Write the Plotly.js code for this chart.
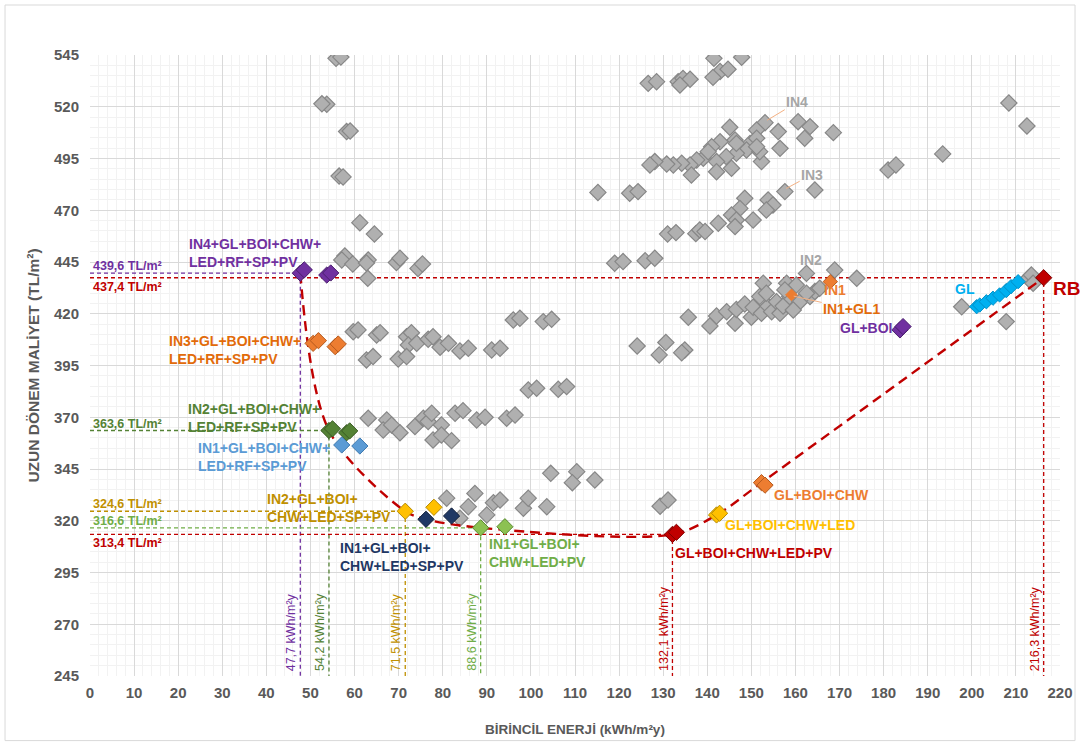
<!DOCTYPE html>
<html>
<head>
<meta charset="utf-8">
<script src="https://cdn.plot.ly/plotly-3.0.1.min.js"></script>
<style>
  html, body { margin: 0; padding: 0; background: #ffffff; }
  #chart { width: 1080px; height: 744px; }
</style>
</head>
<body>
<div id="chart"></div>
<script>
// ---- All evaluated combinations (primary energy kWh/m²y, long-term cost TL/m²) ----
const grayEnergy = [
  55.8, 56.9, 53.7, 52.6, 58.2, 59.0, 56.5, 57.4, 61.2, 64.5, 57.8, 57.1, 59.6, 63.1, 62.7, 69.5, 70.3, 74.4, 75.4, 63.0,
  59.7, 60.8, 65.0, 65.8, 62.7, 64.2, 71.8, 72.9, 72.2, 74.1, 69.9, 71.8, 76.7, 77.8, 79.4, 81.3, 83.9, 85.8, 91.1, 93.0, 96.0, 97.5, 102.8, 104.7,
  99.4, 101.3, 106.2, 108.1, 63.1, 67.3, 66.5, 68.4, 70.3, 73.7, 75.6, 76.7, 77.5, 79.7, 77.8, 79.7, 82.0, 82.8, 84.6, 87.7, 89.6, 94.5, 96.4,
  104.5, 110.4, 109.4, 114.5,
  80.9, 87.3, 85.8, 91.5, 93.0, 90.0, 83.9, 98.3, 99.4, 103.6, 129.3, 131.1,
  115.2, 122.4, 124.3, 119.0, 120.9, 125.9, 128.1,
  131.0, 132.9, 137.4, 138.3, 139.5,
  135.7, 124.1, 130.6, 129.1, 134.9, 134.2,
  140.6, 142.1, 144.4, 146.3, 146.6, 148.5, 150.0, 150.4, 151.9, 152.7, 152.3, 153.8, 154.6, 153.4, 155.7, 156.5, 157.2, 158.0, 158.7, 160.2,
  161.0, 159.5, 162.5, 163.3, 164.4, 165.5, 168.9, 173.9, 157.6, 162.5,
  126.6, 128.5, 133.4, 134.5, 136.1, 133.8, 141.5, 147.8, 142.9, 144.7, 141.3,
  145.1, 153.1, 156.1, 160.6, 163.3, 162.1, 168.6, 156.5, 151.2, 146.3, 142.9, 141.0, 149.7, 151.2, 148.9, 146.6, 144.3, 142.1, 139.1, 137.6,
  136.1, 134.2, 132.3, 130.8, 128.1, 127.0, 136.4, 142.1, 145.5, 152.3, 151.9, 151.2, 140.2, 146.6,
  157.6, 164.4, 148.5, 153.8, 154.9, 153.4, 147.4, 145.5, 146.6, 150.4, 142.5, 146.3,
  181.0, 182.8, 193.4, 208.4, 212.5, 197.7, 207.8, 212.8, 213.5, 213.9
];
const grayCost = [
  543.4, 544.0, 521.2, 521.4, 508.0, 508.3, 486.5, 486.1, 464.0, 458.5, 447.9, 446.0, 444.0, 446.0, 444.5, 444.7, 446.8, 441.9, 444.0, 437.1,
  411.3, 412.2, 409.7, 410.8, 397.7, 399.3, 408.9, 410.8, 404.9, 405.7, 398.1, 399.3, 407.7, 408.9, 403.8, 405.7, 402.0, 403.3, 402.5, 403.3, 417.0, 417.8, 416.2, 417.3,
  383.2, 384.0, 383.5, 384.8, 369.5, 368.7, 363.8, 366.3, 362.5, 365.5, 369.5, 367.9, 371.9, 366.3, 359.0, 361.4, 358.7, 371.9, 373.2, 368.7, 370.0, 369.5, 371.1,
  342.9, 343.7, 338.4, 339.7,
  330.9, 333.2, 326.8, 328.7, 330.0, 322.8, 321.2, 326.0, 330.9, 326.8, 327.0, 330.0,
  478.6, 478.2, 479.0, 444.4, 445.2, 445.6, 446.8,
  458.5, 459.2, 458.7, 460.5, 459.7,
  418.3, 404.4, 406.1, 400.1, 402.5, 401.2,
  414.1, 418.9, 421.0, 415.4, 422.1, 424.7, 418.3, 423.1, 428.3, 434.7, 420.2, 423.7, 421.0, 429.9, 425.8, 420.2, 423.7, 434.7, 428.3, 433.9,
  425.8, 421.8, 439.5, 428.3, 430.7, 432.3, 441.1, 437.1, 431.5, 429.9,
  531.3, 532.1, 532.1, 533.7, 533.3, 530.5, 543.4, 543.9, 537.0, 538.1, 534.2,
  510.1, 512.3, 508.0, 512.8, 510.4, 504.8, 507.5, 499.9, 508.8, 503.9, 503.1, 500.7, 502.3, 504.8, 499.1, 497.5, 495.9, 493.5, 495.1, 494.3,
  491.9, 492.7, 491.9, 492.3, 493.5, 491.9, 487.0, 488.6, 490.3, 493.5, 498.3, 500.7, 498.3, 502.3,
  479.0, 479.8, 475.8, 475.0, 472.5, 470.1, 470.9, 467.7, 465.3, 465.3, 463.7, 462.1,
  489.4, 491.9, 497.2, 521.8, 510.7, 423.4, 416.2, 437.1, 438.7, 434.7
];

// ---- Highlighted packages ----
const in4PkgEnergy = [47.7, 48.6, 53.7, 54.6];
const in4PkgCost   = [439.6, 441.2, 438.7, 439.7];
const in3PkgEnergy = [50.6, 51.8, 55.6, 56.3];
const in3PkgCost   = [405.7, 407.0, 404.1, 405.4];
const in2PkgEnergy = [54.2, 55.0, 58.2, 58.9];
const in2PkgCost   = [363.6, 364.4, 362.5, 363.4];
const in1PkgEnergy = [57.1, 61.2];
const in1PkgCost   = [356.6, 356.1];
const in2SpEnergy  = [71.5, 78.0];
const in2SpCost    = [324.6, 326.5];
const in1SpEnergy  = [76.2, 82.0];
const in1SpCost    = [320.7, 322.3];
const in1PvEnergy  = [88.6, 94.1];
const in1PvCost    = [316.6, 317.1];
const pvEnergy     = [132.1, 133.0];
const pvCost       = [313.4, 314.4];
const ledEnergy    = [142.1, 142.8];
const ledCost      = [322.8, 323.6];
const chwEnergy    = [152.3, 153.1];
const chwCost      = [338.4, 337.2];
const boiEnergy    = [183.7, 184.4];
const boiCost      = [412.2, 413.8];
const glEnergy     = [201.1, 201.8, 203.3, 204.8, 206.3, 207.8, 208.9, 210.5];
const glCost       = [423.4, 424.2, 425.8, 427.5, 429.1, 431.2, 433.1, 435.5];
const in1Energy    = [167.9];
const in1Cost      = [435.5];
const in1Gl1Energy = [159.1];
const in1Gl1Cost   = [429.1];
const rbEnergy     = [216.3];
const rbCost       = [437.4];

// ---- Cost-optimal front ----
const frontEnergy = [47.7, 54.2, 71.5, 76.2, 88.6, 132.1, 142.1, 152.3, 216.3];
const frontCost   = [439.6, 363.6, 324.6, 320.7, 316.6, 313.4, 322.8, 338.4, 437.4];

// ---- Marked reference values ----
const refEnergy = [47.7, 216.3, 54.2, 71.5, 88.6, 132.1];
const refCost   = [439.6, 437.4, 363.6, 324.6, 316.6, 313.4];

const axisMinCost = 245;

// colours
const C = {
  purple: '#7030A0', red: '#C00000', green: '#548235', gold: '#BF9000', yellow: '#FFC000',
  lime: '#70AD47', navy: '#1F3864', blue: '#5B9BD5', orange: '#ED7D31', orangeText: '#E26B0A',
  cyan: '#00B0F0', gray: '#A6A6A6'
};
const refColors = [C.purple, C.red, C.green, C.gold, C.lime, C.red];
const refLabelSide = ['above', 'below', 'above', 'above', 'above', 'below'];

const fmt = v => v.toFixed(1).replace('.', ',');

const traces = [];

// dashed reference lines: horizontal to the point, then down to the axis
refEnergy.forEach((e, i) => {
  traces.push({
    x: [0, e, e], y: [refCost[i], refCost[i], axisMinCost],
    mode: 'lines', hoverinfo: 'skip', showlegend: false,
    line: { color: refColors[i], width: 1.3, dash: '4px,3px' }
  });
});

// all combinations
traces.push({
  x: grayEnergy, y: grayCost, mode: 'markers', showlegend: false,
  marker: { symbol: 'diamond', size: 12.5, color: '#B0B0B0', line: { color: '#878787', width: 1.2 } }
});

// cost-optimal curve
traces.push({
  x: frontEnergy, y: frontCost, mode: 'lines', showlegend: false, hoverinfo: 'skip',
  line: { color: C.red, width: 2.4, dash: '10px,6px', shape: 'spline', smoothing: 0.9 }
});

function pkg(x, y, fill, edge, size) {
  traces.push({
    x: x, y: y, mode: 'markers', showlegend: false,
    marker: { symbol: 'diamond', size: size || 12.5, color: fill, line: { color: edge, width: 1 } }
  });
}
pkg(in4PkgEnergy, in4PkgCost, C.purple, '#4B1F6E');
pkg(in3PkgEnergy, in3PkgCost, C.orange, '#B55A1E');
pkg(in2PkgEnergy, in2PkgCost, C.green, '#3A5C24');
pkg(in1PkgEnergy, in1PkgCost, C.blue, '#3F7AB0');
pkg(in2SpEnergy, in2SpCost, C.yellow, '#B58A00');
pkg(in1SpEnergy, in1SpCost, C.navy, '#101E38');
pkg(in1PvEnergy, in1PvCost, '#8CC152', '#5A8A32');
pkg(pvEnergy, pvCost, C.red, '#800000');
pkg(ledEnergy, ledCost, C.yellow, '#B58A00');
pkg(chwEnergy, chwCost, C.orange, '#B55A1E');
pkg(boiEnergy, boiCost, C.purple, '#4B1F6E');
pkg(glEnergy, glCost, C.cyan, '#0090C8', 11);
pkg(in1Gl1Energy, in1Gl1Cost, C.orange, C.orange, 9);
pkg(in1Energy, in1Cost, C.orange, '#B55A1E', 11);
pkg(rbEnergy, rbCost, C.red, '#800000');

// ---- text labels ----
const annotations = [];
const lab = (text, x, y, color, extra) => annotations.push(Object.assign({
  text: text, x: x, y: y, xref: 'x', yref: 'y', showarrow: false,
  xanchor: 'left', yanchor: 'middle', align: 'left',
  font: { family: 'Liberation Sans, Arial, sans-serif', size: 14, color: color, weight: 'bold' }
}, extra || {}));

lab('IN4+GL+BOI+CHW+<br>LED+RF+SP+PV', 22.0, 449.3, C.purple);
lab('IN3+GL+BOI+CHW+<br>LED+RF+SP+PV', 17.5, 402.5, C.orangeText);
lab('IN2+GL+BOI+CHW+<br>LED+RF+SP+PV', 21.8, 369.6, C.green);
lab('IN1+GL+BOI+CHW+<br>LED+RF+SP+PV', 24.0, 350.8, C.blue);
lab('IN2+GL+BOI+<br>CHW+LED+SP+PV', 39.7, 326.2, C.gold);
lab('IN1+GL+BOI+<br>CHW+LED+SP+PV', 56.2, 302.5, C.navy);
lab('IN1+GL+BOI+<br>CHW+LED+PV', 90.0, 304.4, C.lime);
lab('GL+BOI+CHW+LED+PV', 132.2, 304.4, C.red);
lab('GL+BOI+CHW+LED', 143.6, 318.0, C.yellow);
lab('GL+BOI+CHW', 154.7, 332.4, C.orange);
lab('IN1', 166.0, 431.5, C.orange);
lab('IN2', 160.6, 446.0, C.gray);
lab('GL+BOI', 169.7, 413.1, C.purple);
lab('GL', 195.7, 432.0, C.cyan);
lab('RB', 218.0, 432.0, C.red, { font: { family: 'Liberation Sans, Arial, sans-serif', size: 19, color: C.red, weight: 'bold' } });

// labels with a thin leader to their marker
const leader = (text, x, y, ax, ay, color) => annotations.push({
  text: text, x: x, y: y, xref: 'x', yref: 'y', showarrow: true, arrowhead: 0,
  arrowwidth: 1, arrowcolor: '#F4B183', ax: ax, ay: ay, standoff: 0,
  font: { family: 'Liberation Sans, Arial, sans-serif', size: 14, color: color, weight: 'bold' }
});
leader('IN4', 153.6, 513.5, 30, -18, C.gray);
leader('IN3', 157.9, 480.5, 26, -14, C.gray);
leader('IN1+GL1', 159.6, 428.5, 58, 13, C.orangeText);

// reference values
refEnergy.forEach((e, i) => {
  annotations.push({
    text: fmt(refCost[i]) + ' TL/m²', x: 0, y: refCost[i], xref: 'x', yref: 'y', showarrow: false,
    xanchor: 'left', yanchor: refLabelSide[i] === 'above' ? 'bottom' : 'top',
    xshift: 1, yshift: refLabelSide[i] === 'above' ? -2 : 0,
    font: { family: 'Liberation Sans, Arial, sans-serif', size: 12.5, color: refColors[i], weight: 'bold' }
  });
  annotations.push({
    text: fmt(e) + ' kWh/m²y', x: e, y: axisMinCost, xref: 'x', yref: 'y', showarrow: false,
    textangle: -90, xanchor: 'right', yanchor: 'bottom', xshift: 0, yshift: 3,
    font: { family: 'Liberation Sans, Arial, sans-serif', size: 12.5, color: refColors[i] }
  });
});

const tickFont = { family: 'Liberation Sans, Arial, sans-serif', size: 15, color: '#595959', weight: 'bold' };
const xTitleFont = { family: 'Liberation Sans, Arial, sans-serif', size: 13.5, color: '#595959', weight: 'bold' };
const yTitleFont = { family: 'Liberation Sans, Arial, sans-serif', size: 15.5, color: '#595959', weight: 'bold' };

const layout = {
  width: 1080, height: 744,
  margin: { l: 90, r: 20, t: 55, b: 68 },
  paper_bgcolor: '#ffffff', plot_bgcolor: '#ffffff',
  showlegend: false,
  xaxis: {
    range: [0, 220], tick0: 0, dtick: 10, showline: false, zeroline: false,
    gridcolor: '#D9D9D9', gridwidth: 1, ticks: '', ticklabelstandoff: 6,
    tickfont: tickFont,
    minor: { dtick: 2, showgrid: true, gridcolor: '#F2F2F2', gridwidth: 1 },
    title: { text: 'BİRİNCİL ENERJİ (kWh/m²y)', font: xTitleFont, standoff: 24 }
  },
  yaxis: {
    range: [245, 545], tick0: 245, dtick: 25, showline: false, zeroline: false,
    gridcolor: '#D9D9D9', gridwidth: 1, ticks: '', ticklabelstandoff: 10,
    tickfont: tickFont,
    minor: { dtick: 5, showgrid: true, gridcolor: '#F2F2F2', gridwidth: 1 },
    title: { text: 'UZUN DÖNEM MALİYET (TL/m²)', font: yTitleFont, standoff: 10 }
  },
  annotations: annotations,
  shapes: [{
    type: 'rect', xref: 'paper', yref: 'paper',
    x0: -0.0876, x1: 1.0155, y0: -0.104, y1: 1.0805,
    line: { color: '#D9D9D9', width: 1 }, fillcolor: 'rgba(0,0,0,0)', layer: 'below'
  }]
};

Plotly.newPlot('chart', traces, layout, { displayModeBar: false, staticPlot: true });
</script>
</body>
</html>
